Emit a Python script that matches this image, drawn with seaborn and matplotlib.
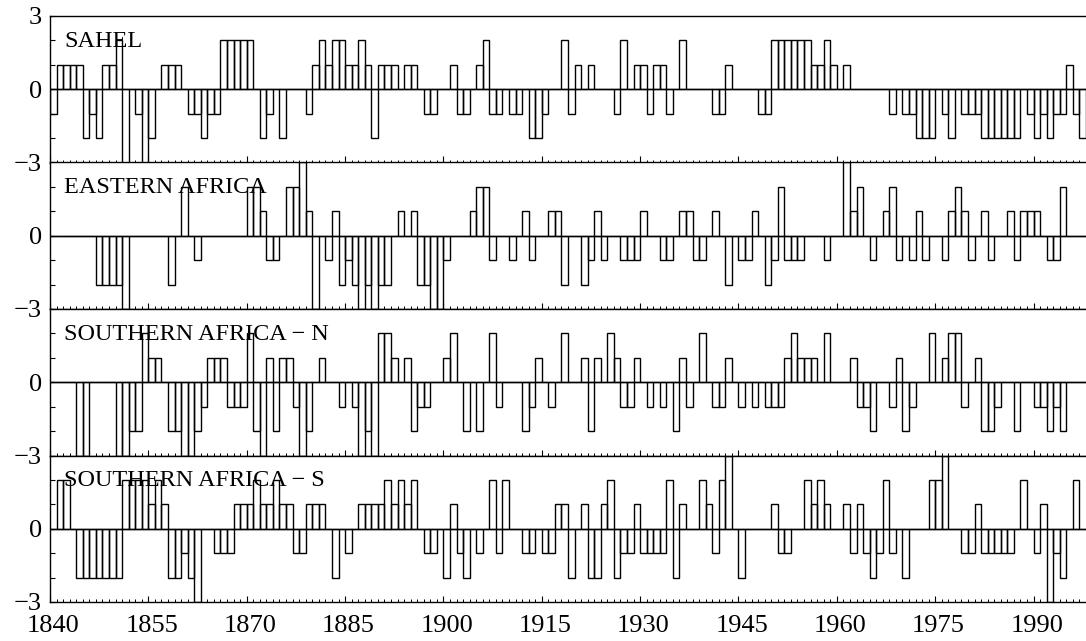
import numpy as np
import pandas as pd
import matplotlib
matplotlib.use("Agg")
import matplotlib.pyplot as plt
import seaborn as sns

years = list(range(1840, 1998))

sahel = [
    -1, 1, 1, 1, 1, -2, -1, -2, 1, 1,
    2, -3, 0, -1, -3, -2, 0, 1, 1, 1,
    0, -1, -1, -2, -1, -1, 2, 2, 2, 2,
    2, 0, -2, -1, 0, -2, 0, 0, 0, -1,
    1, 2, 1, 2, 2, 1, 1, 2, 1, -2,
    1, 1, 1, 0, 1, 1, 0, -1, -1, 0,
    0, 1, -1, -1, 0, 1, 2, -1, -1, 0,
    -1, -1, 0, -2, -2, -1, 0, 0, 2, -1,
    1, 0, 1, 0, 0, 0, -1, 2, 0, 1,
    1, -1, 1, 1, -1, 0, 2, 0, 0, 0,
    0, -1, -1, 1, 0, 0, 0, 0, -1, -1,
    2, 2, 2, 2, 2, 2, 1, 1, 2, 1,
    0, 1, 0, 0, 0, 0, 0, 0, -1, 0,
    -1, -1, -2, -2, -2, 0, -1, -2, 0, -1,
    -1, -1, -2, -2, -2, -2, -2, -2, 0, -1,
    -2, -1, -2, -1, -1, 1, -1, -2,
]

eastern_africa = [
    0, 0, 0, 0, 0, 0, 0, -2, -2, -2,
    -2, -3, 0, 0, 0, 0, 0, 0, -2, 0,
    2, 0, -1, 0, 0, 0, 0, 0, 0, 0,
    2, 2, 1, -1, -1, 0, 2, 2, 3, 1,
    -3, 0, -1, 1, -2, -1, -2, -3, -2, -3,
    -2, -2, 0, 1, 0, 1, -2, -2, -3, -3,
    -1, 0, 0, 0, 1, 2, 2, -1, 0, 0,
    -1, 0, 1, -1, 0, 0, 1, 1, -2, 0,
    0, -2, -1, 1, -1, 0, 0, -1, -1, -1,
    1, 0, 0, -1, -1, 0, 1, 1, -1, -1,
    0, 1, 0, -2, 0, -1, -1, 1, 0, -2,
    -1, 2, -1, -1, -1, 0, 0, 0, -1, 0,
    0, 3, 1, 2, 0, -1, 0, 1, 2, -1,
    0, -1, 1, -1, 0, 0, -1, 1, 2, 1,
    -1, 0, 1, -1, 0, 0, 1, -1, 1, 1,
    1, 0, -1, -1, 2, 0, 0, 0,
]

southern_n = [
    0, 0, 0, 0, -3, -3, 0, 0, 0, 0,
    -3, -3, -2, -2, 2, 1, 1, 0, -2, -2,
    -3, -3, -2, -1, 1, 1, 1, -1, -1, -1,
    2, -2, -3, 1, -2, 1, 1, -1, -3, -2,
    0, 1, 0, 0, -1, 0, -1, -3, -2, -3,
    2, 2, 1, 0, 1, -2, -1, -1, 0, 0,
    1, 2, 0, -2, 0, -2, 0, 2, -1, 0,
    0, 0, -2, -1, 1, 0, -1, 0, 2, 0,
    0, 1, -2, 1, 0, 2, 1, -1, -1, 1,
    0, -1, 0, -1, 0, -2, 1, -1, 0, 2,
    0, -1, -1, 1, 0, -1, 0, -1, 0, -1,
    -1, -1, 1, 2, 1, 1, 1, 0, 2, 0,
    0, 0, 1, -1, -1, -2, 0, 0, -1, 1,
    -2, -1, 0, 0, 2, 0, 1, 2, 2, -1,
    0, 1, -2, -2, -1, 0, 0, -2, 0, 0,
    -1, -1, -2, -1, -2, 0, 0, 0,
]

southern_s = [
    0, 2, 2, 0, -2, -2, -2, -2, -2, -2,
    -2, 2, 2, 2, 2, 1, 2, 1, -2, -2,
    -1, -2, -3, 0, 0, -1, -1, -1, 1, 1,
    1, 2, 1, 1, 2, 1, 1, -1, -1, 1,
    1, 1, 0, -2, 0, -1, 0, 1, 1, 1,
    1, 2, 1, 2, 1, 2, 0, -1, -1, 0,
    -2, 1, -1, -2, 0, -1, 0, 2, -1, 2,
    0, 0, -1, -1, 0, -1, -1, 1, 1, -2,
    0, 1, -2, -2, 1, 2, -2, -1, -1, 1,
    -1, -1, -1, -1, 2, -2, 1, 0, 0, 2,
    1, -1, 2, 3, 0, -2, 0, 0, 0, 0,
    1, -1, -1, 0, 0, 2, 1, 2, 1, 0,
    0, 1, -1, 1, -1, -2, -1, 2, -1, 0,
    -2, 0, 0, 0, 2, 2, 3, 0, 0, -1,
    -1, 1, -1, -1, -1, -1, -1, 0, 2, 0,
    -1, 1, -3, -1, -2, 0, 2, 0,
]

region_names = ["SAHEL", "EASTERN AFRICA", "SOUTHERN AFRICA \u2212 N", "SOUTHERN AFRICA \u2212 S"]
series = [sahel, eastern_africa, southern_n, southern_s]
label_years = [1840, 1855, 1870, 1885, 1900, 1915, 1930, 1945, 1960, 1975, 1990]

sns.set_theme(style="ticks")
plt.rcParams["font.family"] = ["Liberation Serif", "DejaVu Serif"]
plt.rcParams["axes.unicode_minus"] = True

fig = plt.figure(figsize=(10.86, 6.41), dpi=100)
fig.patch.set_facecolor("white")

W, H = 1086.0, 641.0
left = 50 / W
width = 1.0 - left
top = 1 - 16 / H
bottom = 1 - 602 / H
h = (top - bottom) / 4

for k, (name, vals) in enumerate(zip(region_names, series)):
    ax = fig.add_axes([left, top - (k + 1) * h, width, h])
    df = pd.DataFrame({"year": years, "value": vals})
    sns.barplot(data=df, x="year", y="value", native_scale=True, width=1,
                fill=False, color="black", linewidth=1.0, errorbar=None,
                ax=ax)
    ax.axhline(0, color="black", lw=1.0, zorder=3)
    ax.set_xlim(1839.5, 1997.5)
    ax.set_ylim(-3, 3)
    ax.set_xlabel("")
    ax.set_ylabel("")
    ax.set_facecolor("white")

    for side in ["left", "bottom", "top"]:
        ax.spines[side].set_linewidth(1.0)
        ax.spines[side].set_color("black")
    ax.spines["right"].set_visible(False)

    # y ticks
    if k == 0:
        ax.set_yticks([-3, 0, 3], labels=["\u22123", "0", "3"])
    else:
        ax.set_yticks([-3, 0, 3], labels=["\u22123", "0", ""])
    ax.set_yticks([-2, -1, 1, 2], minor=True)
    ax.tick_params(axis="y", which="both", direction="in", length=3.6,
                   width=0.8, color="black", labelsize=19, pad=6.0,
                   right=False, labelcolor="black")

    # x ticks: labels centred on bars, yearly marks at bar edges
    ax.set_xticks(label_years)
    if k == 3:
        ax.set_xticklabels([str(y) for y in label_years])
    else:
        ax.set_xticklabels([])
    ax.set_xticks(np.arange(1839.5, 1998, 1), minor=True)
    ax.tick_params(axis="x", which="major", length=0, labelsize=19, pad=9,
                   labelcolor="black")
    ax.tick_params(axis="x", which="minor", direction="in", length=2.2,
                   width=0.7, color="black", top=False)

    sec = ax.secondary_xaxis("bottom")
    sec.set_xticks(np.array(label_years) - 0.5)
    sec.set_xticklabels([])
    sec.tick_params(axis="x", direction="in", length=4.5, width=0.8,
                    color="black")
    sec.spines["bottom"].set_visible(False)

    ax.text(0.0135, 1 - 30.7 / 146.5, name, transform=ax.transAxes,
            fontsize=17.5, va="baseline", ha="left", color="black", zorder=5)

fig.savefig("out.png", dpi=100, facecolor="white")
